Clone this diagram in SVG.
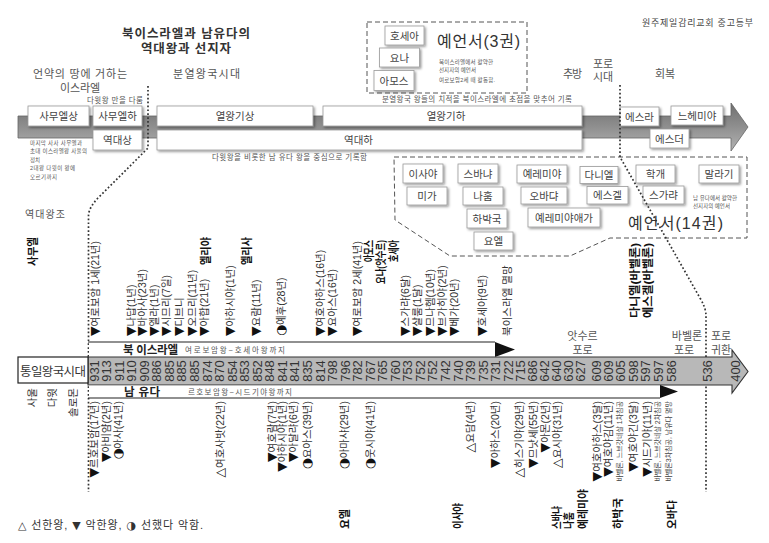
<svg xmlns="http://www.w3.org/2000/svg" width="769" height="543" viewBox="0 0 769 543">
<defs>
<linearGradient id="gBand" x1="0" y1="0" x2="0" y2="1">
<stop offset="0" stop-color="#6f6f6f"/><stop offset="0.45" stop-color="#8c8c8c"/><stop offset="1" stop-color="#b3b3b3"/>
</linearGradient>
<filter id="sh" x="-10%" y="-20%" width="130%" height="170%">
<feDropShadow dx="1.5" dy="1.5" stdDeviation="1.2" flood-color="#000" flood-opacity="0.4"/>
</filter>
</defs>
<style>
text{font-family:"Liberation Sans","Noto Sans CJK KR",sans-serif;}
.m{font-family:"DejaVu Sans",sans-serif;}
.k .m,.ks .m{font-size:12.5px;fill:#111;}
.bx{fill:#fff;stroke:#999;stroke-width:0.8;filter:url(#sh);}
.bt{font-size:10.5px;fill:#444;text-anchor:middle;}
.lb{font-size:11px;fill:#555;}
.sm{font-size:7.5px;fill:#555;}
.tn{font-size:5.5px;fill:#555;}
.big{font-size:16px;fill:#333;}
.dash{fill:none;stroke:#555;stroke-width:1;stroke-dasharray:5 3;}
.dot{fill:none;stroke:#333;stroke-width:1.7;stroke-dasharray:1.7 2.2;}
.k{font-size:10.5px;fill:#333;}
.ks{font-size:10.5px;fill:#333;text-anchor:end;}
.kb{font-size:7px;fill:#444;text-anchor:end;}
.yr{font-size:13px;fill:#333;text-anchor:middle;}
.bn{font-size:11px;font-weight:bold;fill:#111;}
.bne{font-size:11px;font-weight:bold;fill:#111;text-anchor:end;}
</style>
<rect width="769" height="543" fill="#fff"/>

<g id="title">
<text x="186" y="38" font-size="12.5" font-weight="bold" fill="#333" text-anchor="middle" textLength="128">북이스라엘과 남유다의</text>
<text x="186" y="53" font-size="12.5" font-weight="bold" fill="#333" text-anchor="middle" textLength="90">역대왕과 선지자</text>
</g>
<text x="642" y="26" font-size="9" fill="#444" textLength="111">원주제일감리교회 중고등부</text>

<g id="period-labels">
<text class="lb" x="33" y="78" textLength="94">언약의 땅에 거하는</text>
<text class="lb" x="60" y="92" textLength="40">이스라엘</text>
<text class="lb" x="173" y="78" textLength="67">분열왕국시대</text>
<text class="lb" x="563" y="78" textLength="19">추방</text>
<text class="lb" x="593" y="68" textLength="20">포로</text>
<text class="lb" x="593" y="81" textLength="20">시대</text>
<text class="lb" x="655" y="78" textLength="20">회복</text>
</g>

<g id="band-top">
<path d="M18,116 H731 V103 L748,127 L731,151 V138 H18 Z" fill="url(#gBand)" stroke="#666" stroke-width="0.8"/>
</g>

<text class="sm" x="87" y="103" font-size="7" textLength="56">다윗왕 만을 다룸</text>
<text class="sm" x="382" y="102" textLength="190">분열왕국 왕들의 치적을 북이스라엘에 초점을 맞추어 기록</text>
<text class="sm" x="212" y="159.5" textLength="155">다윗왕을 비롯한 남 유다 왕을 중심으로 기록함</text>
<g id="note-samuel">
<text class="tn" x="30" y="145" textLength="52">마지막 사사 사무엘과</text>
<text class="tn" x="30" y="153" textLength="57">초대 이스라엘왕 사울의</text>
<text class="tn" x="30" y="161.5" textLength="10">정치</text>
<text class="tn" x="30" y="170" textLength="45">2대왕 다윗이 왕에</text>
<text class="tn" x="30" y="178.5" textLength="27">오르기까지</text>
</g>

<g id="n-samuel1"><rect class="bx" x="28" y="106" width="61" height="20"/><text class="bt" x="58.5" y="120">사무엘상</text></g>
<g id="n-samuel2"><rect class="bx" x="93" y="106" width="49" height="20"/><text class="bt" x="117.5" y="120">사무엘하</text></g>
<g id="n-chron1"><rect class="bx" x="93" y="130" width="49" height="20"/><text class="bt" x="117.5" y="144">역대상</text></g>
<g id="n-kings1"><rect class="bx" x="157" y="106" width="156" height="20"/><text class="bt" x="235" y="120">열왕기상</text></g>
<g id="n-kings2"><rect class="bx" x="323" y="106" width="259" height="20"/><text class="bt" x="446" y="120">열왕기하</text></g>
<g id="n-chron2"><rect class="bx" x="157" y="130" width="425" height="20"/><text class="bt" x="358.5" y="144">역대하</text></g>
<g id="n-ezra"><rect class="bx" x="620" y="107" width="39" height="19"/><text class="bt" x="639.5" y="120.5">에스라</text></g>
<g id="n-nehemiah"><rect class="bx" x="671" y="106" width="52" height="19"/><text class="bt" x="697" y="119.5">느헤미야</text></g>
<g id="n-esther"><rect class="bx" x="650" y="129" width="39" height="19"/><text class="bt" x="669.5" y="142.5">에스더</text></g>

<g id="group-3">
<rect class="dash" x="367" y="22" width="160" height="71"/>
<text class="big" x="437" y="47" textLength="83">예언서(3권)</text>
<text class="tn" x="439" y="64" textLength="54">북이스라엘에서 활약한</text>
<text class="tn" x="439" y="72" textLength="37">선지자의 예언서</text>
<text class="tn" x="439" y="82" textLength="56">여로보암2세 때 활동함.</text>
</g>
<g id="n-hosea"><rect class="bx" x="385" y="26" width="39" height="19"/><text class="bt" x="404.5" y="39.5">호세아</text></g>
<g id="n-jonah"><rect class="bx" x="379.5" y="48" width="40" height="19"/><text class="bt" x="399.5" y="61.5">요나</text></g>
<g id="n-amos"><rect class="bx" x="374" y="70.5" width="40" height="20"/><text class="bt" x="394" y="84.5">아모스</text></g>

<g id="group-14">
<path class="dash" d="M394,157 H747 V238 H610 L570,256 H450 L395,220 Z"/>
<text class="big" x="628" y="228.5" font-size="16.5" textLength="95">예언서(14권)</text>
<text class="tn" x="693" y="199.5" textLength="44">남 유다에서 활약한</text>
<text class="tn" x="693" y="207.5" textLength="37">선지자의 예언서</text>
</g>
<g id="n-isaiah"><rect class="bx" x="403" y="164" width="40" height="19"/><text class="bt" x="423" y="177.5">이사야</text></g>
<g id="n-micah"><rect class="bx" x="407" y="187" width="40" height="18"/><text class="bt" x="427" y="200">미가</text></g>
<g id="n-zephaniah"><rect class="bx" x="458" y="164" width="40" height="19"/><text class="bt" x="478" y="177.5">스바냐</text></g>
<g id="n-nahum"><rect class="bx" x="463" y="187" width="40" height="18"/><text class="bt" x="483" y="200">나훔</text></g>
<g id="n-habakkuk"><rect class="bx" x="467" y="209" width="40" height="19"/><text class="bt" x="487" y="222.5">하박국</text></g>
<g id="n-joel"><rect class="bx" x="474" y="232" width="39" height="18"/><text class="bt" x="493.5" y="245">요엘</text></g>
<g id="n-jeremiah"><rect class="bx" x="517" y="165" width="50" height="18"/><text class="bt" x="542" y="178">예레미야</text></g>
<g id="n-obadiah"><rect class="bx" x="521" y="187" width="46" height="17"/><text class="bt" x="544" y="199.5">오바댜</text></g>
<g id="n-lamentations"><rect class="bx" x="528" y="208" width="72" height="19"/><text class="bt" x="564" y="221.5">예레미야애가</text></g>
<g id="n-daniel"><rect class="bx" x="580" y="166.5" width="38" height="17"/><text class="bt" x="599" y="179">다니엘</text></g>
<g id="n-ezekiel"><rect class="bx" x="587" y="186.5" width="41" height="17.5"/><text class="bt" x="607.5" y="199">에스겔</text></g>
<g id="n-haggai"><rect class="bx" x="636" y="165" width="39" height="18"/><text class="bt" x="655.5" y="178">학개</text></g>
<g id="n-zechariah"><rect class="bx" x="643" y="186" width="41" height="18"/><text class="bt" x="663.5" y="199">스가랴</text></g>
<g id="n-malachi"><rect class="bx" x="699" y="165" width="40" height="18"/><text class="bt" x="719" y="178">말라기</text></g>

<text x="25" y="218" font-size="10" fill="#555" textLength="40">역대왕조</text>

<g id="connectors">
<path class="dot" d="M148,86 V148 L98,198 Q88.5,208 88.5,216 V492"/>
<path class="dot" d="M620,85 V157 L700,298 Q706,308 706,316 V492"/>
</g>

<g id="bar-north">
<rect x="89" y="342" width="406" height="15" fill="#fff"/>
<line x1="88" y1="342" x2="495" y2="342" stroke="#222" stroke-width="1.2"/>
<polygon points="495,342 515,349.5 495,357" fill="#111"/>
<text x="123" y="353.5" font-size="11.5" font-weight="bold" fill="#222" textLength="55">북 이스라엘</text>
<text class="sm" x="185" y="353" textLength="100">여로보암왕~호세아왕까지</text>
</g>
<g id="band-years">
<path d="M88,357 H732 V350 L748,371.5 L732,393 V385 H88 Z" fill="#b8b8b8" stroke="#333" stroke-width="1.1"/>
</g>
<g id="bar-south">
<rect x="89" y="385.6" width="571" height="12" fill="#fff"/>
<line x1="88" y1="398" x2="660" y2="398" stroke="#222" stroke-width="1.2"/>
<polygon points="660,385 678,391.5 660,398" fill="#111"/>
<text x="124" y="395.5" font-size="11.5" font-weight="bold" fill="#222" textLength="36">남 유다</text>
<text class="sm" x="188" y="395" textLength="104">르호보암왕~시드기야왕까지</text>
</g>
<g id="n-united">
<rect x="18" y="357" width="70" height="26" fill="#fff" stroke="#222" stroke-width="1.2"/>
<text x="53" y="375.5" font-size="12.5" fill="#333" text-anchor="middle" textLength="66">통일왕국시대</text>
</g>

<g id="years">
<text class="yr" transform="translate(98.6,371) rotate(-90)">931</text>
<text class="yr" transform="translate(111.1,371) rotate(-90)">913</text>
<text class="yr" transform="translate(123.7,371) rotate(-90)">911</text>
<text class="yr" transform="translate(136.2,371) rotate(-90)">910</text>
<text class="yr" transform="translate(148.8,371) rotate(-90)">909</text>
<text class="yr" transform="translate(161.3,371) rotate(-90)">886</text>
<text class="yr" transform="translate(173.9,371) rotate(-90)">885</text>
<text class="yr" transform="translate(186.4,371) rotate(-90)">885</text>
<text class="yr" transform="translate(199,371) rotate(-90)">885</text>
<text class="yr" transform="translate(211.5,371) rotate(-90)">874</text>
<text class="yr" transform="translate(224.1,371) rotate(-90)">870</text>
<text class="yr" transform="translate(236.6,371) rotate(-90)">854</text>
<text class="yr" transform="translate(249.2,371) rotate(-90)">853</text>
<text class="yr" transform="translate(261.7,371) rotate(-90)">852</text>
<text class="yr" transform="translate(274.3,371) rotate(-90)">848</text>
<text class="yr" transform="translate(286.8,371) rotate(-90)">841</text>
<text class="yr" transform="translate(299.4,371) rotate(-90)">841</text>
<text class="yr" transform="translate(311.9,371) rotate(-90)">835</text>
<text class="yr" transform="translate(324.5,371) rotate(-90)">814</text>
<text class="yr" transform="translate(337,371) rotate(-90)">798</text>
<text class="yr" transform="translate(349.6,371) rotate(-90)">796</text>
<text class="yr" transform="translate(362.1,371) rotate(-90)">782</text>
<text class="yr" transform="translate(374.7,371) rotate(-90)">767</text>
<text class="yr" transform="translate(387.2,371) rotate(-90)">765</text>
<text class="yr" transform="translate(399.8,371) rotate(-90)">760</text>
<text class="yr" transform="translate(412.3,371) rotate(-90)">753</text>
<text class="yr" transform="translate(424.9,371) rotate(-90)">752</text>
<text class="yr" transform="translate(437.4,371) rotate(-90)">752</text>
<text class="yr" transform="translate(450,371) rotate(-90)">742</text>
<text class="yr" transform="translate(462.5,371) rotate(-90)">740</text>
<text class="yr" transform="translate(475.1,371) rotate(-90)">739</text>
<text class="yr" transform="translate(487.6,371) rotate(-90)">735</text>
<text class="yr" transform="translate(500.2,371) rotate(-90)">731</text>
<text class="yr" transform="translate(512.7,371) rotate(-90)">722</text>
<text class="yr" transform="translate(525.3,371) rotate(-90)">715</text>
<text class="yr" transform="translate(536.5,371) rotate(-90)">686</text>
<text class="yr" transform="translate(548.5,371) rotate(-90)">642</text>
<text class="yr" transform="translate(560.5,371) rotate(-90)">640</text>
<text class="yr" transform="translate(572.5,371) rotate(-90)">630</text>
<text class="yr" transform="translate(585,371) rotate(-90)">627</text>
<text class="yr" transform="translate(600.6,371) rotate(-90)">609</text>
<text class="yr" transform="translate(612.5,371) rotate(-90)">609</text>
<text class="yr" transform="translate(625,371) rotate(-90)">605</text>
<text class="yr" transform="translate(637.5,371) rotate(-90)">598</text>
<text class="yr" transform="translate(650,371) rotate(-90)">597</text>
<text class="yr" transform="translate(662.5,371) rotate(-90)">597</text>
<text class="yr" transform="translate(676,371) rotate(-90)">586</text>
<text class="yr" transform="translate(711.6,371) rotate(-90)">536</text>
<text class="yr" transform="translate(740.3,371) rotate(-90)">400</text>
</g>

<g id="north-kings">
<text class="k" transform="translate(98.5,336) rotate(-90)"><tspan class="m">▼</tspan>여로보암 1세(21년)</text>
<text class="k" transform="translate(135,336) rotate(-90)"><tspan class="m">▼</tspan>나답(1년)</text>
<text class="k" transform="translate(146,336) rotate(-90)"><tspan class="m">▼</tspan>바아사(23년)</text>
<text class="k" transform="translate(158,336) rotate(-90)"><tspan class="m">▼</tspan>엘라(1년)</text>
<text class="k" transform="translate(170,336) rotate(-90)"><tspan class="m">▼</tspan>시므리(7일)</text>
<text class="k" transform="translate(183,336) rotate(-90)"><tspan class="m">▼</tspan>디브니</text>
<text class="k" transform="translate(196,336) rotate(-90)"><tspan class="m">▼</tspan>오므리(11년)</text>
<text class="k" transform="translate(208,336) rotate(-90)"><tspan class="m">▼</tspan>아합(21년)</text>
<text class="k" transform="translate(234,336) rotate(-90)"><tspan class="m">▼</tspan>아하시야(1년)</text>
<text class="k" transform="translate(260,336) rotate(-90)"><tspan class="m">▼</tspan>요람(11년)</text>
<text class="k" transform="translate(285,336) rotate(-90)"><tspan class="m">◑</tspan>예후(28년)</text>
<text class="k" transform="translate(324,336) rotate(-90)"><tspan class="m">▼</tspan>여호아하스(16년)</text>
<text class="k" transform="translate(336,336) rotate(-90)"><tspan class="m">▼</tspan>요아스(16년)</text>
<text class="k" transform="translate(361,336) rotate(-90)"><tspan class="m">▼</tspan>여로보암 2세(41년)</text>
<text class="k" transform="translate(409,336) rotate(-90)"><tspan class="m">▼</tspan>스가랴(6달)</text>
<text class="k" transform="translate(421,336) rotate(-90)"><tspan class="m">▼</tspan>살룸(1달)</text>
<text class="k" transform="translate(434,336) rotate(-90)"><tspan class="m">▼</tspan>므나헴(10년)</text>
<text class="k" transform="translate(446,336) rotate(-90)"><tspan class="m">▼</tspan>브가히야(2년)</text>
<text class="k" transform="translate(458,336) rotate(-90)"><tspan class="m">▼</tspan>베가(20년)</text>
<text class="k" transform="translate(486,336) rotate(-90)"><tspan class="m">▼</tspan>호세아(9년)</text>
<text class="k" transform="translate(511,336) rotate(-90)" fill="#666">북이스라엘 멸망</text>
</g>

<g id="south-kings">
<text class="ks" transform="translate(98,401) rotate(-90)"><tspan class="m">▼</tspan>르호보암(17년)</text>
<text class="ks" transform="translate(110,401) rotate(-90)"><tspan class="m">▼</tspan>아비얌(2년)</text>
<text class="ks" transform="translate(122,401) rotate(-90)"><tspan class="m">◑</tspan>아사(41년)</text>
<text class="ks" transform="translate(224,401) rotate(-90)"><tspan class="m">△</tspan>여호사밧(22년)</text>
<text class="ks" transform="translate(276,401) rotate(-90)"><tspan class="m">▼</tspan>여호람(7년)</text>
<text class="ks" transform="translate(286,401) rotate(-90)"><tspan class="m">▼</tspan>아하시야(1년)</text>
<text class="ks" transform="translate(297,401) rotate(-90)"><tspan class="m">▼</tspan>아달랴(6년)</text>
<text class="ks" transform="translate(311,401) rotate(-90)"><tspan class="m">◑</tspan>요아스(39년)</text>
<text class="ks" transform="translate(348,401) rotate(-90)"><tspan class="m">◑</tspan>아마샤(29년)</text>
<text class="ks" transform="translate(374,401) rotate(-90)"><tspan class="m">◑</tspan>웃시야(41년)</text>
<text class="ks" transform="translate(474,401) rotate(-90)"><tspan class="m">△</tspan>요담(4년)</text>
<text class="ks" transform="translate(499,401) rotate(-90)"><tspan class="m">▼</tspan>아하스(20년)</text>
<text class="ks" transform="translate(523,401) rotate(-90)"><tspan class="m">△</tspan>히스기야(29년)</text>
<text class="ks" transform="translate(537,401) rotate(-90)"><tspan class="m">▼</tspan>므낫세(55년)</text>
<text class="ks" transform="translate(549,401) rotate(-90)"><tspan class="m">▼</tspan>아몬(2년)</text>
<text class="ks" transform="translate(561,401) rotate(-90)"><tspan class="m">△</tspan>요시야(31년)</text>
<text class="ks" transform="translate(601,401) rotate(-90)"><tspan class="m">▼</tspan>여호아하스(3달)</text>
<text class="ks" transform="translate(612,401) rotate(-90)"><tspan class="m">▼</tspan>여호야김(11년)</text>
<text class="kb" transform="translate(622,401) rotate(-90)">바벨론, 느브갓네살 1차침공</text>
<text class="ks" transform="translate(637,401) rotate(-90)"><tspan class="m">▼</tspan>여호야긴(3달)</text>
<text class="ks" transform="translate(651,401) rotate(-90)"><tspan class="m">▼</tspan>시드기야(11년)</text>
<text class="kb" transform="translate(660,401) rotate(-90)">바벨론, 느브갓네살 2차침공</text>
<text class="kb" transform="translate(671,401) rotate(-90)">바벨론3차침공, 남유다 멸망</text>
</g>

<g id="prophets">
<text class="bne" transform="translate(37,237) rotate(-90)" textLength="29" lengthAdjust="spacingAndGlyphs">사무엘</text>
<text class="bne" transform="translate(210,237) rotate(-90)" textLength="28" lengthAdjust="spacingAndGlyphs">엘리야</text>
<text class="bne" transform="translate(251,237) rotate(-90)" textLength="28" lengthAdjust="spacingAndGlyphs">엘리사</text>
<text class="bne" transform="translate(373,240) rotate(-90)" textLength="22" lengthAdjust="spacingAndGlyphs">아모스</text>
<text class="bne" transform="translate(385,240) rotate(-90)" textLength="44" lengthAdjust="spacingAndGlyphs">요나(앗수르)</text>
<text class="bne" transform="translate(398,240) rotate(-90)" textLength="22" lengthAdjust="spacingAndGlyphs">호세아</text>
<text class="bne" transform="translate(639,243) rotate(-90)" textLength="75" lengthAdjust="spacingAndGlyphs">다니엘(바벨론)</text>
<text class="bne" transform="translate(652,243) rotate(-90)" textLength="75" lengthAdjust="spacingAndGlyphs">에스겔(바벨론)</text>
<text class="bn" transform="translate(349,529) rotate(-90)" textLength="20" lengthAdjust="spacingAndGlyphs">요엘</text>
<text class="bn" transform="translate(462,529) rotate(-90)" textLength="26" lengthAdjust="spacingAndGlyphs">이사야</text>
<text class="bn" transform="translate(561,529) rotate(-90)" textLength="23" lengthAdjust="spacingAndGlyphs">스바냐</text>
<text class="bn" transform="translate(572.5,529) rotate(-90)" textLength="17" lengthAdjust="spacingAndGlyphs">나훔</text>
<text class="bn" transform="translate(587,529) rotate(-90)" textLength="40" lengthAdjust="spacingAndGlyphs">예레미야</text>
<text class="bn" transform="translate(622,529) rotate(-90)" textLength="31" lengthAdjust="spacingAndGlyphs">하박국</text>
<text class="bn" transform="translate(676,529) rotate(-90)" textLength="29" lengthAdjust="spacingAndGlyphs">오바댜</text>
</g>

<g id="united-kings">
<text class="ks" transform="translate(35.5,388) rotate(-90)">사울</text>
<text class="ks" transform="translate(55.5,388) rotate(-90)">다윗</text>
<text class="ks" transform="translate(76.5,388) rotate(-90)">솔로몬</text>
</g>

<g id="captivity-labels">
<text class="lb" x="582.5" y="340" text-anchor="middle" font-size="10.5">앗수르</text>
<text class="lb" x="582.5" y="354" text-anchor="middle" font-size="10.5">포로</text>
<text class="lb" x="687" y="340" text-anchor="middle" font-size="10.5">바벨론</text>
<text class="lb" x="684" y="354" text-anchor="middle" font-size="10.5">포로</text>
<text class="lb" x="721" y="340" text-anchor="middle" font-size="10.5">포로</text>
<text class="lb" x="721" y="354" text-anchor="middle" font-size="10.5">귀환</text>
</g>

<text x="18" y="529" font-size="11" fill="#333" textLength="185"><tspan class="m">△</tspan> 선한왕, <tspan class="m">▼</tspan> 악한왕, <tspan class="m">◑</tspan> 선했다 악함.</text>
</svg>
